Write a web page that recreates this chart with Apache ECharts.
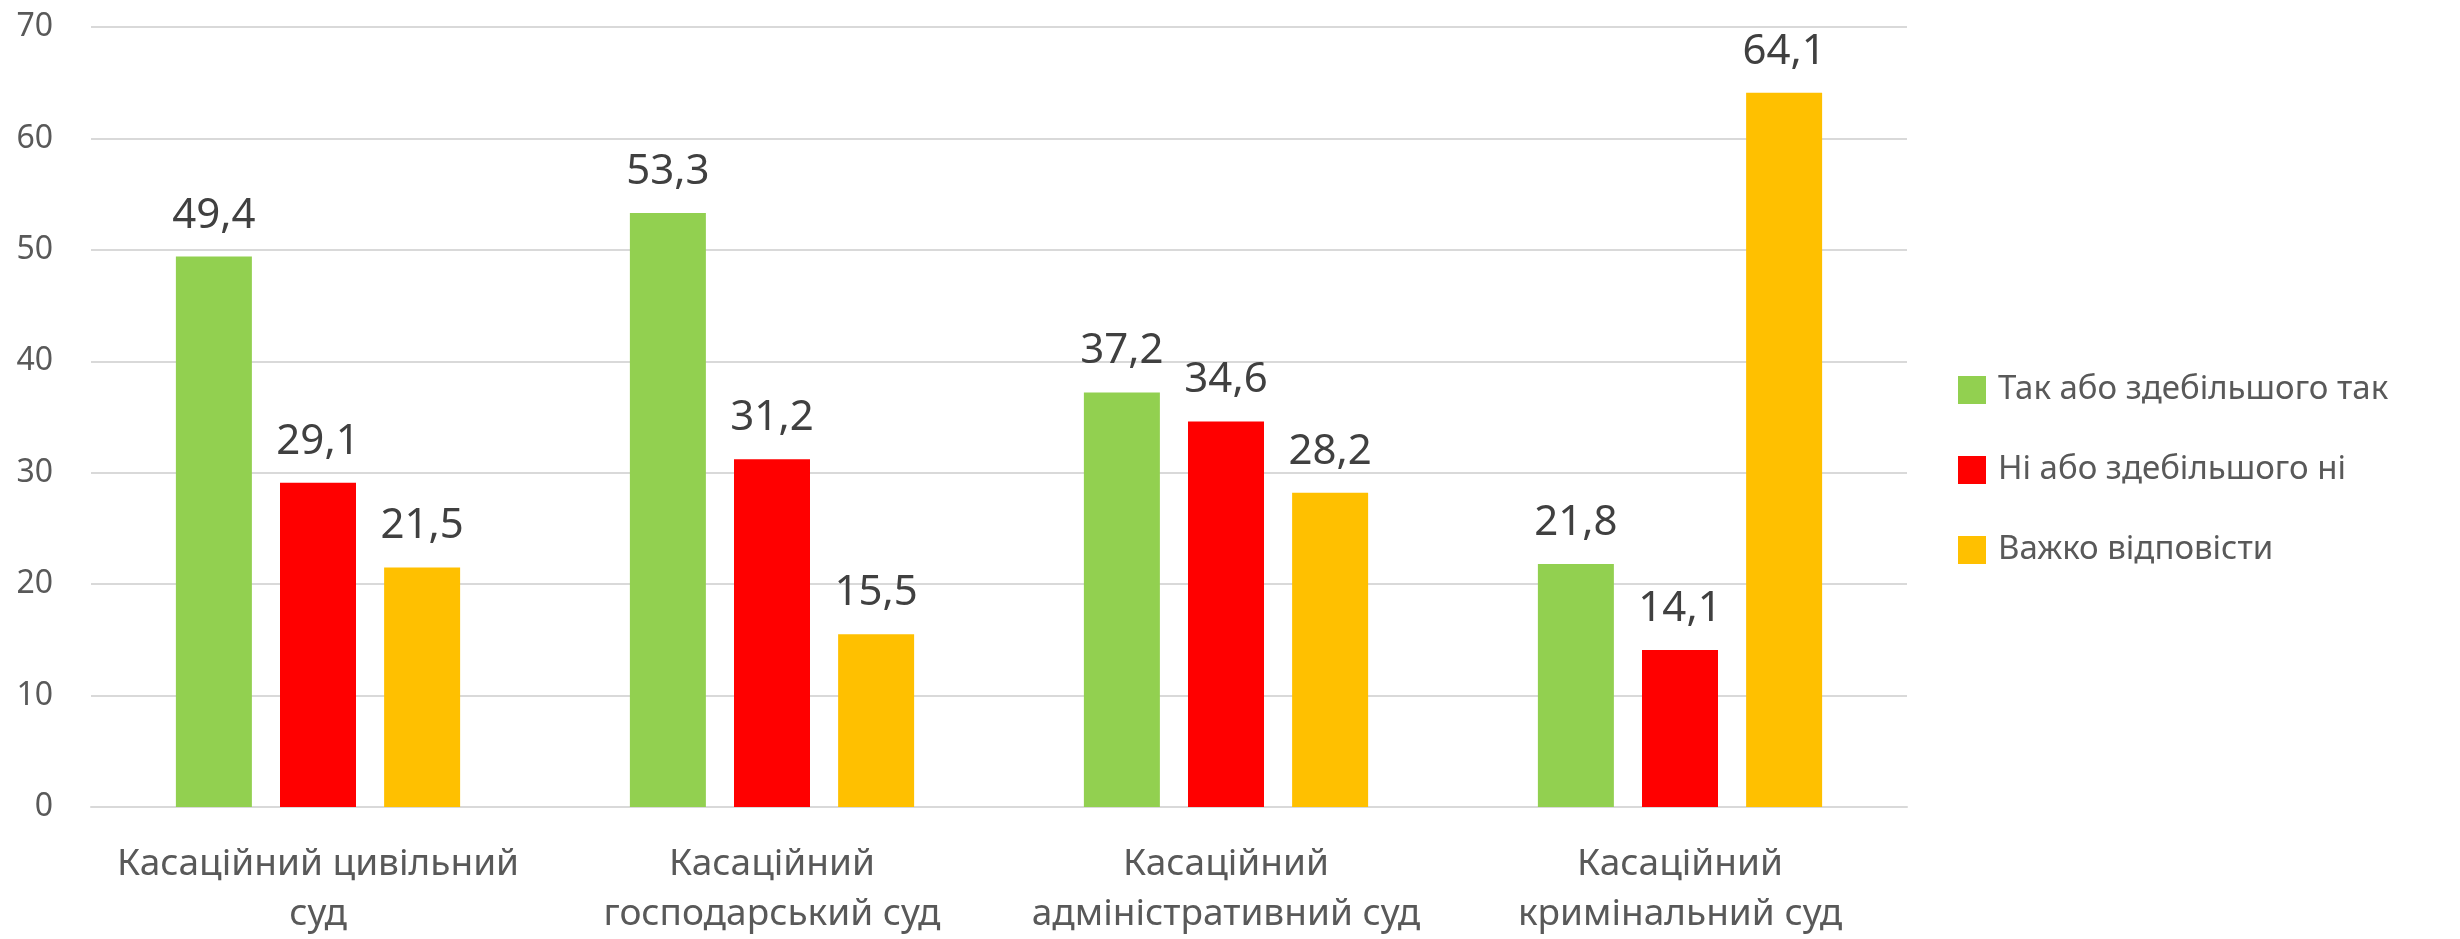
<!DOCTYPE html>
<html>
<head>
<meta charset="utf-8">
<script src="https://cdn.jsdelivr.net/npm/echarts@6/dist/echarts.min.js"></script>
<style>
html,body{margin:0;padding:0;background:#fff;}
#chart{width:2460px;height:939px;}
</style>
</head>
<body>
<div id="chart"></div>
<script>
const categories = ['Касаційний цивільний\nсуд', 'Касаційний\nгосподарський суд', 'Касаційний\nадміністративний суд', 'Касаційний\nкримінальний суд'];
const seriesNames = ['Так або здебільшого так', 'Ні або здебільшого ні', 'Важко відповісти'];
const yesValues = [49.4, 53.3, 37.2, 21.8];
const noValues = [29.1, 31.2, 34.6, 14.1];
const hardValues = [21.5, 15.5, 28.2, 64.1];
const colors = ['#92D050', '#FF0000', '#FFC000'];

const FONT = '"Noto Sans", "Open Sans", sans-serif';
const chart = echarts.init(document.getElementById('chart'), null, {renderer: 'canvas'});

function mk(name, data, color) {
  return {
    name: name,
    type: 'bar',
    data: data,
    barWidth: 76,
    barGap: '37%',
    itemStyle: {color: color},
    label: {
      show: true,
      position: 'top',
      distance: 20,
      color: '#404040',
      fontFamily: FONT,
      fontSize: 42,
      formatter: p => String(p.value).replace('.', ',')
    }
  };
}

chart.setOption({
  animation: false,
  backgroundColor: '#fff',
  grid: {left: 91, right: 553, top: 27, bottom: 132, containLabel: false, outerBoundsMode: 'none'},
  legend: {
    orient: 'vertical',
    left: 1953,
    top: 365,
    itemWidth: 28,
    itemHeight: 28,
    itemGap: 40,
    icon: 'rect',
    textStyle: {color: '#595959', fontFamily: FONT, fontSize: 33, lineHeight: 40, padding: [0, 0, 0, 7]},
    data: seriesNames
  },
  xAxis: {
    type: 'category',
    data: categories,
    axisLine: {show: true, lineStyle: {color: '#D9D9D9', width: 2}},
    axisTick: {show: false},
    axisLabel: {color: '#595959', fontFamily: FONT, fontSize: 37, lineHeight: 50, margin: 32, interval: 0}
  },
  yAxis: {
    type: 'value',
    min: 0,
    max: 70,
    interval: 10,
    axisLine: {show: false},
    axisTick: {show: false},
    splitLine: {lineStyle: {color: '#D9D9D9', width: 2}},
    axisLabel: {color: '#595959', fontFamily: FONT, fontSize: 32, margin: 38}
  },
  series: [
    mk(seriesNames[0], yesValues, colors[0]),
    mk(seriesNames[1], noValues, colors[1]),
    mk(seriesNames[2], hardValues, colors[2])
  ]
});
</script>
</body>
</html>
